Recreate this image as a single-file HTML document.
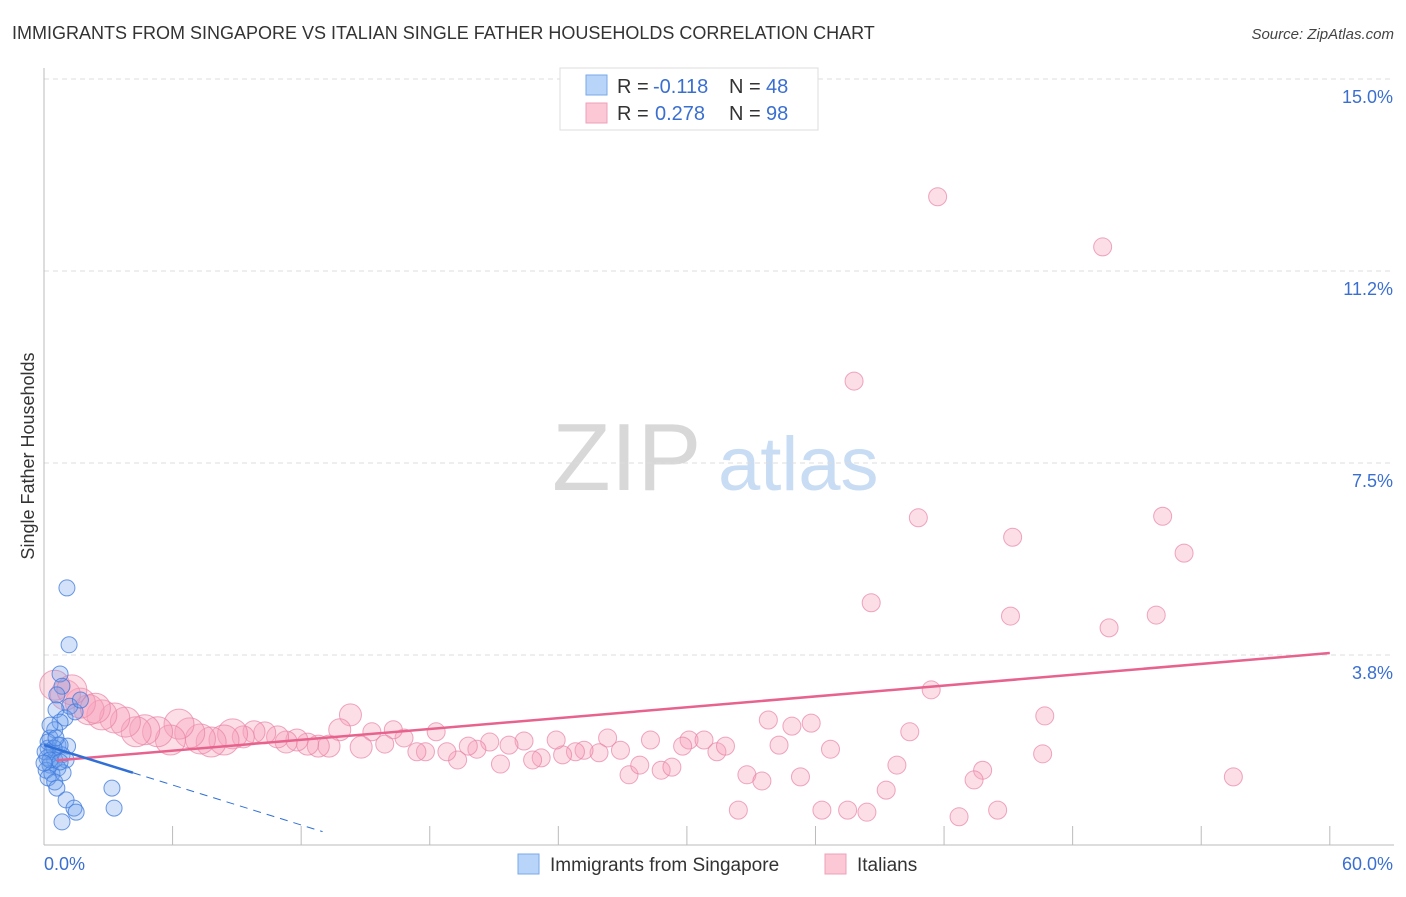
<!DOCTYPE html>
<html><head><meta charset="utf-8">
<style>
body{margin:0;background:#fff;font-family:"Liberation Sans",sans-serif;}
svg text{font-family:"Liberation Sans",sans-serif;}
</style></head>
<body>
<svg id="chart" width="1406" height="892" xmlns="http://www.w3.org/2000/svg">
<text x="12" y="39" font-size="18" fill="#333">IMMIGRANTS FROM SINGAPORE VS ITALIAN SINGLE FATHER HOUSEHOLDS CORRELATION CHART</text>
<text x="1394" y="39" font-size="15" fill="#444" text-anchor="end" font-style="italic">Source: ZipAtlas.com</text>
<g>
<text x="552" y="490" font-size="96" fill="#d8d8d8" font-family="Liberation Serif, serif">ZIP</text>
<text x="718" y="490" font-size="76" fill="#c8dcf4">atlas</text>
</g>
<g id="grid"></g>
<g id="axes"></g>
<g id="pts"></g>
<g id="lines"></g>
<text transform="translate(34,456) rotate(-90)" font-size="18" fill="#333" text-anchor="middle">Single Father Households</text>
<g>
<rect x="560" y="68" width="258" height="62" fill="#fff" stroke="#ddd"/>
<rect x="586" y="75" width="21" height="20" fill="#b8d4f8" stroke="#7aa8e8"/>
<text x="617" y="93" font-size="20" fill="#333">R = </text><text x="653" y="93" font-size="20" fill="#3a6fd0">-0.118</text>
<text x="729" y="93" font-size="20" fill="#333">N = </text><text x="766" y="93" font-size="20" fill="#3a6fd0">48</text>
<rect x="586" y="103" width="21" height="20" fill="#fcc8d6" stroke="#eca0b8"/>
<text x="617" y="120" font-size="20" fill="#333">R = </text><text x="655" y="120" font-size="20" fill="#3a6fd0">0.278</text>
<text x="729" y="120" font-size="20" fill="#333">N = </text><text x="766" y="120" font-size="20" fill="#3a6fd0">98</text>
</g>
<g>
<rect x="518" y="854" width="21" height="20" fill="#b8d4f8" stroke="#7aa8e8"/>
<text x="550" y="871" font-size="19" fill="#333">Immigrants from Singapore</text>
<rect x="825" y="854" width="21" height="20" fill="#fcc8d6" stroke="#eca0b8"/>
<text x="857" y="871" font-size="19" fill="#333">Italians</text>
</g>
</svg>
<script>
const yTicks=[3.75,7.5,11.25,15];
const yTickLabels=["3.8%","7.5%","11.2%","15.0%"];
const xTickVals=[0,6,12,18,24,30,36,42,48,54,60];
const blueX=[1.07,1.17,0.75,0.84,0.6,1.2,0.56,0.98,0.75,0.5,0.28,0.65,1.1,0.19,0.37,0.84,0.14,0.5,1.03,0.28,0.65,0.1,0.37,0.89,0.19,0.5,0.6,1.03,1.4,1.5,0.84,3.17,3.27,0.28,0.19,0.75,0.47,0.05,0.28,0.75,0.0,0.56,1.45,1.7];
const blueY=[5.06,3.95,3.38,3.14,2.97,2.75,2.68,2.52,2.44,2.29,2.13,1.99,1.97,1.93,1.86,1.80,1.74,1.70,1.70,1.60,1.54,1.50,1.43,1.45,1.35,1.27,1.15,0.92,0.76,0.68,0.49,1.15,0.76,2.38,2.05,1.99,1.93,1.86,1.70,1.66,1.64,2.13,2.64,2.87];
const pinkX=[41.7,49.4,37.8,40.8,45.2,52.2,53.2,38.6,45.1,49.7,51.9,41.4,46.7,33.8,34.9,35.8,40.4,34.3,36.7,46.6,39.8,43.8,43.4,32.8,33.5,35.3,39.3,55.5,32.4,36.3,37.5,38.4,42.7,44.5,27.3,28.8,27.8,29.3,30.1,30.8,29.8,31.4,31.8,28.3,26.9,26.3,25.9,25.2,24.8,24.2,23.9,23.2,22.8,22.4,21.7,21.3,20.8,20.2,19.8,19.3,18.8,18.3,17.8,17.4,16.8,16.3,15.9,15.3,14.8,14.3,13.8,13.3,12.8,12.3,11.8,11.3,10.9,10.3,9.8,9.3,8.8,8.4,7.8,7.3,6.8,6.3,5.9,5.3,4.7,4.3,3.8,3.3,2.7,2.1,1.7,1.0,0.5,1.3,2.4];
const pinkY=[12.70,11.72,9.10,6.43,6.05,6.46,5.74,4.77,4.51,4.28,4.53,3.07,2.56,2.48,2.36,2.42,2.25,1.99,1.91,1.82,1.60,1.50,1.31,1.41,1.29,1.37,1.11,1.37,0.72,0.72,0.72,0.68,0.59,0.72,1.41,1.50,1.60,1.56,2.09,2.09,1.97,1.86,1.97,2.09,1.89,2.13,1.84,1.89,1.86,1.80,2.09,1.74,1.70,2.07,1.99,1.62,2.05,1.91,1.97,1.70,1.86,2.25,1.86,1.86,2.13,2.29,2.01,2.25,1.95,2.58,2.29,1.97,1.97,2.01,2.09,2.05,2.15,2.23,2.25,2.15,2.21,2.09,2.05,2.11,2.23,2.40,2.09,2.25,2.29,2.25,2.44,2.52,2.58,2.68,2.81,2.97,3.16,3.07,2.71];
const pinkTrend=[1.67,0.0353]; // intercept, slope
const blueTrend=[1.99,-0.13];
const blueSolidEnd=4.15, blueDashEnd=13.0, pinkStart=0.6, pinkEnd=60;

const X=v=>44+v*21.43, Y=v=>847-v*51.2;
const NS="http://www.w3.org/2000/svg";
function mk(parent,tag,attrs){const e=document.createElementNS(NS,tag);for(const k in attrs)e.setAttribute(k,attrs[k]);document.getElementById(parent).appendChild(e);return e;}
yTicks.forEach((t,i)=>{
  const g=mk('grid','line',{x1:44,x2:1394,y1:Y(t),y2:Y(t),stroke:'#ddd','stroke-dasharray':'5,4'});
  
  
  const l=mk('axes','text',{x:1393,y:Y(t)+24,'font-size':18,fill:'#3a6fd0','text-anchor':'end'});
  l.textContent=yTickLabels[i];
  
  
});
const ax=mk('axes','line',{x1:44,x2:44,y1:68,y2:845,stroke:'#bbb'});


const bx=mk('axes','line',{x1:44,x2:1394,y1:845,y2:845,stroke:'#bbb'});


xTickVals.forEach(v=>{
  const t=mk('axes','line',{x1:X(v),x2:X(v),y1:826,y2:845,stroke:'#bbb'});
  
  
});
const x0=mk('axes','text',{x:44,y:870,'font-size':18,fill:'#3a6fd0'});x0.textContent='0.0%';


const x1=mk('axes','text',{x:1393,y:870,'font-size':18,fill:'#3a6fd0','text-anchor':'end'});x1.textContent='60.0%';


pinkX.forEach((v,i)=>{
  const r=v<9?15:(v<15?11:9);
  const c=mk('pts','circle',{cx:X(v),cy:Y(pinkY[i]),r:r,fill:'rgba(246,160,186,0.35)',stroke:'rgba(232,130,165,0.7)'});
  
  
});
blueX.forEach((v,i)=>{
  const c=mk('pts','circle',{cx:X(v),cy:Y(blueY[i]),r:8,fill:'rgba(110,160,235,0.3)',stroke:'rgba(60,120,220,0.75)'});
  
  
});
const pl=mk('lines','line',{x1:X(pinkStart),y1:Y(pinkTrend[0]+pinkTrend[1]*pinkStart),x2:X(pinkEnd),y2:Y(pinkTrend[0]+pinkTrend[1]*pinkEnd),stroke:'#e8628e','stroke-width':2.5});


const bl=mk('lines','line',{x1:X(0),y1:Y(blueTrend[0]),x2:X(blueSolidEnd),y2:Y(blueTrend[0]+blueTrend[1]*blueSolidEnd),stroke:'#2f6fd6','stroke-width':2.5});


const bd=mk('lines','line',{x1:X(blueSolidEnd),y1:Y(blueTrend[0]+blueTrend[1]*blueSolidEnd),x2:X(blueDashEnd),y2:Y(blueTrend[0]+blueTrend[1]*blueDashEnd),stroke:'#2f6fd6','stroke-width':1,'stroke-dasharray':'8,6'});


</script>
</body></html>
